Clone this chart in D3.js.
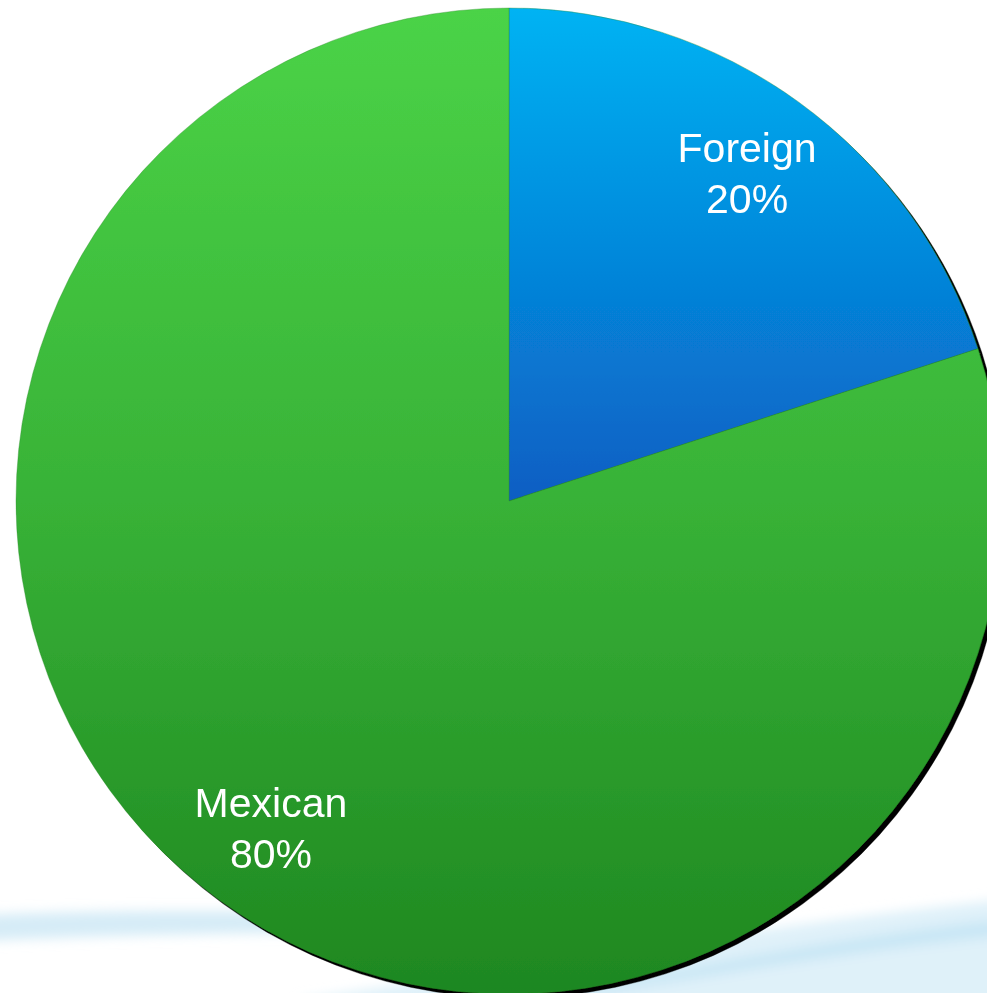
<!DOCTYPE html>
<html>
<head>
<meta charset="utf-8">
<script src="https://cdn.jsdelivr.net/npm/d3@7"></script>
<style>
  html, body { margin: 0; padding: 0; background: #ffffff; overflow: hidden; }
  svg { display: block; }
</style>
</head>
<body>
<svg id="chart" width="987" height="993"></svg>
<script>
// Share of ownership by origin
const categories = ["Foreign", "Mexican"];
const values = [20, 80];
const labels = ["20%", "80%"];

const width = 987, height = 993;
const cx = 509, cy = 501, radius = 493;

const svg = d3.select("#chart");
const defs = svg.append("defs");

// Vertical gradients, one per slice, spanning each slice's own box
const gradStops = {
  Foreign: [["0%", "#00b3f3"], ["100%", "#0a5ec3"]],
  Mexican: [["0%", "#4bd347"], ["50%", "#38b237"], ["100%", "#1e8720"]]
};

// Hard drop shadow offset to the lower right
const shadow = defs.append("filter").attr("id", "shadow")
  .attr("x", "-10%").attr("y", "-10%").attr("width", "120%").attr("height", "120%");
shadow.append("feOffset").attr("in", "SourceAlpha").attr("dx", 4).attr("dy", 3.5).attr("result", "off");
const merge = shadow.append("feMerge");
merge.append("feMergeNode").attr("in", "off");
merge.append("feMergeNode").attr("in", "SourceGraphic");

const haze = defs.append("filter").attr("id", "haze")
  .attr("x", "-20%").attr("y", "-200%").attr("width", "140%").attr("height", "500%");
haze.append("feGaussianBlur").attr("stdDeviation", 6);

// Background swoosh near the bottom edge
const bg = svg.append("g").attr("filter", "url(#haze)");
bg.append("path")
  .attr("d", "M -40 916 C 150 906, 450 912, 640 924 L 640 934 C 450 930, 150 932, -40 942 Z")
  .attr("fill", "#cfe9f6").attr("opacity", 0.85);
bg.append("path")
  .attr("d", "M 300 1000 C 550 962, 800 920, 1020 898 L 1020 1010 L 300 1010 Z")
  .attr("fill", "#dbeff8").attr("opacity", 0.9);
bg.append("path")
  .attr("d", "M 520 1000 C 700 965, 850 935, 1020 918 L 1020 934 C 850 950, 700 978, 520 1006 Z")
  .attr("fill", "#bfe2f3").attr("opacity", 0.7);

const pie = d3.pie().value(d => d).sort(null);
const arcs = pie(values);
const arc = d3.arc().innerRadius(0).outerRadius(radius);
const labelArc = d3.arc().innerRadius(405).outerRadius(405);

arcs.forEach((a, i) => {
  const g = defs.append("linearGradient")
    .attr("id", "grad" + i)
    .attr("gradientUnits", "objectBoundingBox")
    .attr("x1", 0).attr("y1", 0).attr("x2", 0).attr("y2", 1);
  gradStops[categories[i]].forEach(([o, c]) => g.append("stop").attr("offset", o).attr("stop-color", c));
});

const root = svg.append("g").attr("transform", `translate(${cx},${cy})`);

root.append("g").attr("filter", "url(#shadow)")
  .selectAll("path").data(arcs).join("path")
  .attr("d", arc)
  .attr("fill", (d, i) => `url(#grad${i})`)
  .attr("stroke", "#2a8a2a").attr("stroke-width", 0.6).attr("stroke-opacity", 0.6);

const text = root.selectAll("text.lbl").data(arcs).join("text")
  .attr("class", "lbl")
  .attr("transform", d => `translate(${labelArc.centroid(d)})`)
  .attr("text-anchor", "middle")
  .attr("font-family", "'Liberation Sans', Arial, sans-serif")
  .attr("font-size", 41)
  .attr("fill", "#ffffff");
text.append("tspan").attr("x", 0).attr("dy", "-0.28em").text((d, i) => categories[i]);
text.append("tspan").attr("x", 0).attr("dy", "1.24em").text((d, i) => labels[i]);
</script>
</body>
</html>
